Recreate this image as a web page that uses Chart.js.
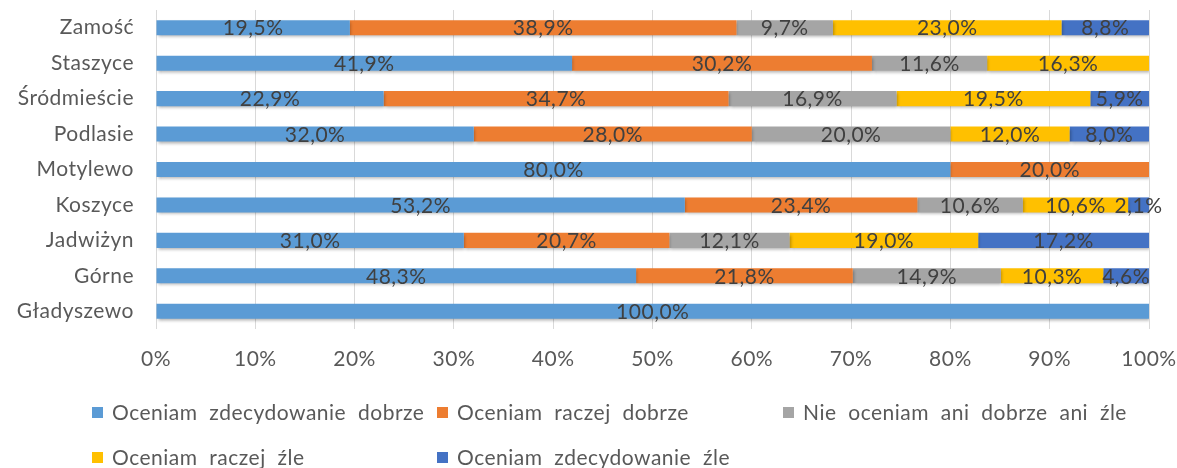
<!DOCTYPE html>
<html>
<head>
    <meta charset="utf-8">
    <title>Ocena - wykres słupkowy 100%</title>
    <script src="https://cdn.jsdelivr.net/npm/chart.js"></script>
    <style>
        body { margin: 0; background: #fff; }
        #wrap { width: 1177px; height: 468px; position: relative; }
    </style>
</head>
<body>

<div id="wrap"><canvas id="ocena_chart"></canvas></div>

<script>
const categories = ['Zamość', 'Staszyce', 'Śródmieście', 'Podlasie', 'Motylewo', 'Koszyce', 'Jadwiżyn', 'Górne', 'Gładyszewo'];

const zdecydowanieDobrze = [19.5, 41.9, 22.9, 32.0, 80.0, 53.2, 31.0, 48.3, 100.0];
const raczejDobrze       = [38.9, 30.2, 34.7, 28.0, 20.0, 23.4, 20.7, 21.8, 0];
const aniDobrzeAniZle    = [9.7, 11.6, 16.9, 20.0, 0, 10.6, 12.1, 14.9, 0];
const raczejZle          = [23.0, 16.3, 19.5, 12.0, 0, 10.6, 19.0, 10.3, 0];
const zdecydowanieZle    = [8.8, 0, 5.9, 8.0, 0, 2.1, 17.2, 4.6, 0];

const seriesNames = ['Oceniam  zdecydowanie  dobrze', 'Oceniam  raczej  dobrze', 'Nie  oceniam  ani  dobrze  ani  źle', 'Oceniam  raczej  źle', 'Oceniam  zdecydowanie  źle'];
const tickValues = [0, 10, 20, 30, 40, 50, 60, 70, 80, 90, 100];

const allSeries = [zdecydowanieDobrze, raczejDobrze, aniDobrzeAniZle, raczejZle, zdecydowanieZle];
const colors = ['#5B9BD5', '#ED7D31', '#A5A5A5', '#FFC000', '#4472C4'];

// 100% stacked: each row scaled to its own sum
const rowSums = categories.map((c, i) => allSeries.reduce((s, arr) => s + arr[i], 0));

const fontFamily = 'Lato, "Liberation Sans", sans-serif';
const fontSize = 21;

// slightly wider letter spacing, like the original office chart
const spacing = {
    id: 'spacing',
    beforeDraw(chart) {
        chart.ctx.letterSpacing = '0.5px';
    }
};

const barShadow = {
    id: 'barShadow',
    beforeDatasetsDraw(chart) {
        const ctx = chart.ctx;
        ctx.save();
        ctx.shadowColor = 'rgba(0,0,0,0.3)';
        ctx.shadowBlur = 3;
        ctx.shadowOffsetX = 1;
        ctx.shadowOffsetY = 2;
    },
    afterDatasetsDraw(chart) {
        chart.ctx.restore();
    }
};

const valueLabels = {
    id: 'valueLabels',
    afterDatasetsDraw(chart) {
        const ctx = chart.ctx;
        ctx.save();
        ctx.font = fontSize + 'px ' + fontFamily;
        ctx.fillStyle = '#404040';
        ctx.textAlign = 'center';
        ctx.textBaseline = 'middle';
        chart.data.datasets.forEach((ds, di) => {
            const meta = chart.getDatasetMeta(di);
            meta.data.forEach((bar, i) => {
                const raw = ds.rawValues[i];
                if (!raw) return;
                const x = (bar.x + bar.base) / 2;
                ctx.fillText(raw.toFixed(1).replace('.', ',') + '%', x, bar.y + 1);
            });
        });
        ctx.restore();
    }
};

// legend laid out in fixed columns, as in the original
const gridLegend = {
    id: 'gridLegend',
    afterDraw(chart) {
        const ctx = chart.ctx;
        const spots = [[92, 412], [437, 412], [783, 412], [92, 457], [437, 457]];
        ctx.save();
        ctx.font = fontSize + 'px ' + fontFamily;
        ctx.textBaseline = 'middle';
        ctx.textAlign = 'left';
        chart.data.datasets.forEach((ds, i) => {
            const [x, y] = spots[i];
            ctx.fillStyle = ds.backgroundColor;
            ctx.fillRect(x, y - 5, 11, 11);
            ctx.fillStyle = '#595959';
            ctx.fillText(ds.label, x + 20, y + 1);
        });
        ctx.restore();
    }
};

document.addEventListener("DOMContentLoaded", function() {
    const ctx = document.getElementById('ocena_chart').getContext('2d');

    new Chart(ctx, {
        type: 'bar',
        data: {
            labels: categories,
            datasets: allSeries.map((arr, k) => ({
                label: seriesNames[k],
                data: arr.map((v, i) => v / rowSums[i] * 100),
                rawValues: arr,
                backgroundColor: colors[k],
                borderWidth: 0,
                barPercentage: 0.85,
                categoryPercentage: 0.5
            }))
        },
        options: {
            indexAxis: 'y',
            responsive: true,
            maintainAspectRatio: false,
            animation: false,
            layout: { padding: { top: 10, right: 28, bottom: 94, left: 0 } },
            scales: {
                x: {
                    stacked: true,
                    min: 0,
                    max: 100,
                    afterBuildTicks: axis => { axis.ticks = tickValues.map(v => ({ value: v })); },
                    afterFit: axis => {
                        axis.height = 45;
                        axis.paddingLeft = 0;
                        axis.paddingRight = 0;
                    },
                    grid: { color: '#D9D9D9', lineWidth: 1, drawTicks: false },
                    border: { display: false },
                    ticks: {
                        padding: 18,
                        color: '#595959',
                        font: { family: fontFamily, size: fontSize },
                        callback: v => v + '%'
                    }
                },
                y: {
                    stacked: true,
                    afterFit: axis => {
                        axis.width = 156;
                        axis.paddingTop = 0;
                        axis.paddingBottom = 0;
                    },
                    grid: { display: false },
                    border: { display: false },
                    ticks: {
                        padding: 14,
                        color: '#595959',
                        font: { family: fontFamily, size: fontSize }
                    }
                }
            },
            plugins: {
                legend: { display: false },
                tooltip: { enabled: false }
            }
        },
        plugins: [spacing, barShadow, valueLabels, gridLegend]
    });
});
</script>

</body>
</html>
